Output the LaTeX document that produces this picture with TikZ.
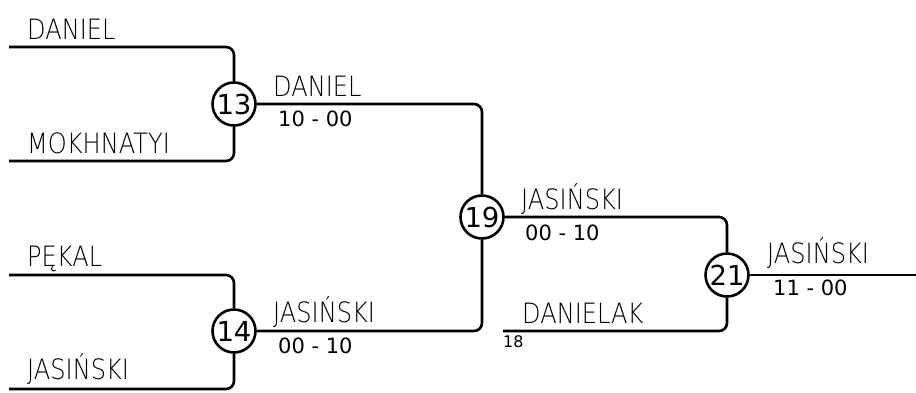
\documentclass[tikz,border=0pt]{standalone}
\usepackage{fontspec}
\setmainfont{DejaVu Sans}
\newfontfamily\namefont[FakeStretch=0.86]{DejaVu Sans ExtraLight}
\begin{document}
\begin{tikzpicture}[x=1pt,y=-1pt,
  conn/.style={line width=2.6pt,rounded corners=8pt},
  game/.style={circle,draw,line width=2.6pt,minimum size=43pt,inner sep=0pt,font=\fontsize{27.5}{27.5}\selectfont},
  pname/.style={anchor=base west,inner sep=0pt,font=\namefont\fontsize{28}{28}\selectfont},
  score/.style={anchor=base west,inner sep=0pt,font=\fontsize{21}{21}\selectfont},
  seed/.style={anchor=base west,inner sep=0pt,font=\fontsize{16}{16}\selectfont}]
\useasboundingbox (0,0) rectangle (916,392);
% games
\node[game] (m13) at (234,104) {13};
\node[game] (m14) at (234,331) {14};
\node[game] (m19) at (482,217) {19};
\node[game] (m21) at (727,275) {21};
% entry points
\coordinate (p1) at (9,47);
\coordinate (p2) at (9,161);
\coordinate (p3) at (9,275);
\coordinate (p4) at (9,389);
\coordinate (p18) at (503,331);
\coordinate (fin) at (920,275);
% connectors
\draw[conn] (p1) -| (m13);
\draw[conn] (p2) -| (m13);
\draw[conn] (p3) -| (m14);
\draw[conn] (p4) -| (m14);
\draw[conn] (m13) -| (m19);
\draw[conn] (m14) -| (m19);
\draw[conn] (m19) -| (m21);
\draw[conn] (p18) -| (m21);
\draw[conn] (m21) -- (fin);
% labels
\node[pname] (n1) at (27,39) {DANIEL};
\node[pname] (n2) at (27,153) {MOKHNATYI};
\node[pname] (n3) at (27,266) {PĘKAL};
\node[pname] (n4) at (27,379) {JASIŃSKI};
\node[pname] (w13) at (273,96) {DANIEL};
\node[score] (s13) at (278,126) {10 - 00};
\node[pname] (w14) at (273,322) {JASIŃSKI};
\node[score] (s14) at (278,353) {00 - 10};
\node[pname] (w19) at (521,209) {JASIŃSKI};
\node[score] (s19) at (525,240) {00 - 10};
\node[pname] (n18) at (522,323) {DANIELAK};
\node[seed] (l18) at (503,347) {18};
\node[pname] (w21) at (767,263) {JASIŃSKI};
\node[score] (s21) at (773,295) {11 - 00};
\end{tikzpicture}
\end{document}
